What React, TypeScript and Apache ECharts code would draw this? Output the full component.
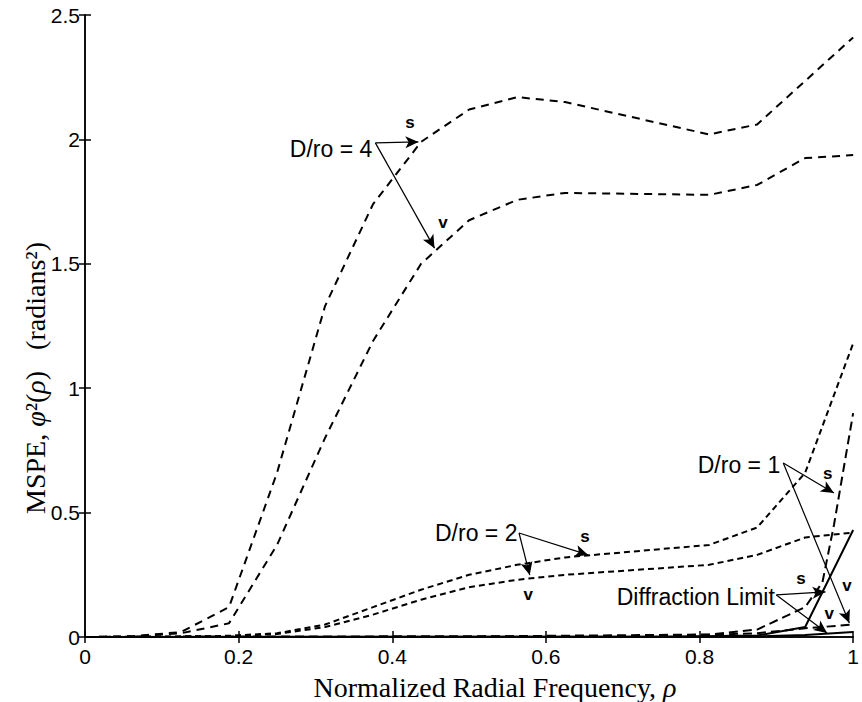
import React, { useEffect, useRef } from 'react';
import * as echarts from 'echarts';

// ---- data (rho, MSPE) ----
const dro4S: [number, number][] = [
  [0, 0], [0.0625, 0.003], [0.125, 0.02], [0.1875, 0.12], [0.25, 0.66], [0.3125, 1.33],
  [0.375, 1.74], [0.4375, 1.99], [0.5, 2.12], [0.5625, 2.17], [0.625, 2.15],
  [0.8125, 2.02], [0.875, 2.06], [1, 2.41],
];
const dro4V: [number, number][] = [
  [0, 0], [0.0625, 0.002], [0.125, 0.015], [0.1875, 0.055], [0.25, 0.37], [0.3125, 0.8],
  [0.375, 1.19], [0.4375, 1.5], [0.5, 1.675], [0.5625, 1.757], [0.625, 1.785],
  [0.8125, 1.777], [0.875, 1.817], [0.9375, 1.925], [1, 1.937],
];
const dro2S: [number, number][] = [
  [0, 0], [0.125, 0.001], [0.1875, 0.005], [0.25, 0.015], [0.3125, 0.05], [0.375, 0.12],
  [0.4375, 0.19], [0.5, 0.25], [0.5625, 0.29], [0.625, 0.32], [0.8125, 0.37],
  [0.875, 0.44], [0.9375, 0.66], [1, 1.18],
];
const dro2V: [number, number][] = [
  [0, 0], [0.1875, 0.004], [0.25, 0.012], [0.3125, 0.04], [0.375, 0.09], [0.4375, 0.15],
  [0.5, 0.2], [0.5625, 0.23], [0.625, 0.25], [0.8125, 0.29], [0.875, 0.33],
  [0.9375, 0.4], [1, 0.42],
];
const dro1S: [number, number][] = [
  [0, 0], [0.5, 0.002], [0.8125, 0.01], [0.875, 0.03], [0.9375, 0.12], [0.96, 0.22],
  [0.975, 0.45], [1, 0.9],
];
const dro1V: [number, number][] = [
  [0, 0], [0.75, 0.003], [0.875, 0.015], [0.9375, 0.035], [1, 0.05],
];
const diffS: [number, number][] = [
  [0, 0], [0.75, 0.001], [0.875, 0.006], [0.9375, 0.04], [1, 0.43],
];
const diffV: [number, number][] = [
  [0, 0], [0.875, 0.002], [0.9375, 0.008], [1, 0.02],
];

const xTicks = [0, 0.2, 0.4, 0.6, 0.8, 1];
const yTicks = [0, 0.5, 1, 1.5, 2, 2.5];

const xTitle = 'Normalized Radial Frequency, ';
const yTitle = ['MSPE, ', 'φ', '²(', 'ρ', ')   (radians²)'];

// annotation labels: [text, rho, value]
const annoTexts: [string, number, number][] = [
  ['D/ro = 4', 0.374, 1.96],
  ['D/ro = 2', 0.563, 0.418],
  ['D/ro = 1', 0.905, 0.69],
  ['Diffraction Limit', 0.898, 0.161],
];
const annoSmall: [string, number, number][] = [
  ['s', 0.423, 2.066], ['v', 0.466, 1.664],
  ['s', 0.651, 0.402], ['v', 0.577, 0.169],
  ['s', 0.967, 0.659], ['v', 0.992, 0.209],
  ['s', 0.932, 0.237], ['v', 0.969, 0.096],
];
// arrows: [fromRho, fromVal, toRho, toVal]
const arrows: [number, number, number, number][] = [
  [0.378, 1.986, 0.434, 1.99],
  [0.378, 1.986, 0.455, 1.563],
  [0.565, 0.418, 0.655, 0.33],
  [0.565, 0.418, 0.579, 0.249],
  [0.909, 0.699, 0.975, 0.579],
  [0.909, 0.699, 0.995, 0.056],
  [0.9, 0.169, 0.964, 0.181],
  [0.9, 0.169, 0.966, 0.016],
];

const SANS = '"Liberation Sans", Arial, sans-serif';
const SERIF = '"Liberation Serif", "Times New Roman", serif';

export default function App() {
  const ref = useRef<HTMLDivElement>(null);
  useEffect(() => {
    if (!ref.current) return;
    const chart = echarts.init(ref.current, undefined, { renderer: 'svg' });
    const curve = (name: string, data: [number, number][], dash: any, width = 2) => ({
      name,
      type: 'line',
      data,
      showSymbol: false,
      symbol: 'none',
      silent: true,
      lineStyle: { color: '#000', width, type: dash },
      z: 3,
    });
    const axisCommon = {
      type: 'value' as const,
      axisLine: { show: true, lineStyle: { color: '#000', width: 1.5 } },
      axisTick: { show: true, inside: true, length: 6, lineStyle: { color: '#000', width: 1.5 } },
      splitLine: { show: false },
    };
    const titleRich = {
      t: { fontFamily: SERIF, fontSize: 28, fill: '#000' },
      i: { fontFamily: SERIF, fontSize: 28, fontStyle: 'italic', fill: '#000' },
    };
    chart.setOption({
      animation: false,
      backgroundColor: '#fff',
      grid: { left: 85, top: 15, right: 1, bottom: 65, containLabel: false },
      xAxis: [
        {
          ...axisCommon,
          min: 0, max: 1, interval: 0.2,
          axisLabel: {
            color: '#000', fontFamily: SANS, fontSize: 21, margin: 9,
            formatter: (v: number) => {
              const r = Math.round(v * 10) / 10;
              return xTicks.includes(r) ? String(r) : '';
            },
          },
        },
        { ...axisCommon, position: 'top', min: 0, max: 1, interval: 0.2, axisLabel: { show: false } },
      ],
      yAxis: [
        {
          ...axisCommon,
          min: 0, max: 2.5, interval: 0.5,
          axisLabel: {
            color: '#000', fontFamily: SANS, fontSize: 21, margin: 5,
            formatter: (v: number) => {
              const r = Math.round(v * 10) / 10;
              return yTicks.includes(r) ? String(r) : '';
            },
          },
        },
        { ...axisCommon, position: 'right', min: 0, max: 2.5, interval: 0.5, axisLabel: { show: false } },
      ],
      graphic: [
        {
          type: 'text',
          x: 495,
          y: 687,
          silent: true,
          style: {
            text: `{t|${xTitle}}{i|ρ}`,
            rich: titleRich,
            align: 'center',
            verticalAlign: 'middle',
          },
        },
        {
          type: 'text',
          x: 35,
          y: 378,
          rotation: Math.PI / 2,
          silent: true,
          style: {
            text: `{t|${yTitle[0]}}{i|${yTitle[1]}}{t|${yTitle[2]}}{i|${yTitle[3]}}{t|${yTitle[4]}}`,
            rich: titleRich,
            align: 'center',
            verticalAlign: 'middle',
          },
        },
      ],
      series: [
        curve('D/ro=4 s', dro4S, [8, 6]),
        curve('D/ro=4 v', dro4V, [8, 6]),
        curve('D/ro=2 s', dro2S, [6, 4]),
        curve('D/ro=2 v', dro2V, [6, 4]),
        curve('D/ro=1 s', dro1S, [9, 5]),
        curve('D/ro=1 v', dro1V, [9, 5]),
        curve('Diffraction s', diffS, 'solid'),
        curve('Diffraction v', diffV, 'solid'),
        {
          name: 'annotations',
          type: 'line',
          data: [],
          silent: true,
          markLine: {
            silent: true,
            symbol: ['none', 'arrow'],
            symbolSize: [9, 13],
            label: { show: false },
            lineStyle: { color: '#000', width: 1.2, type: 'solid' },
            data: arrows.map(([a, b, c, d]) => [{ coord: [a, b] }, { coord: [c, d] }]),
          },
          markPoint: {
            silent: true,
            symbol: 'circle',
            symbolSize: 0,
            data: [
              ...annoTexts.map(([t, x, y]) => ({
                coord: [x, y],
                label: {
                  show: true, formatter: t, position: 'left', distance: 0,
                  color: '#000', fontFamily: SANS, fontSize: 23,
                },
              })),
              ...annoSmall.map(([t, x, y]) => ({
                coord: [x, y],
                label: {
                  show: true, formatter: t, position: 'inside',
                  color: '#000', fontFamily: SANS, fontSize: 17, fontWeight: 'bold',
                },
              })),
            ],
          },
        },
      ],
    });
    return () => chart.dispose();
  }, []);
  return <div ref={ref} style={{ position: 'fixed', left: 0, top: 0, width: 862, height: 702 }} />;
}
